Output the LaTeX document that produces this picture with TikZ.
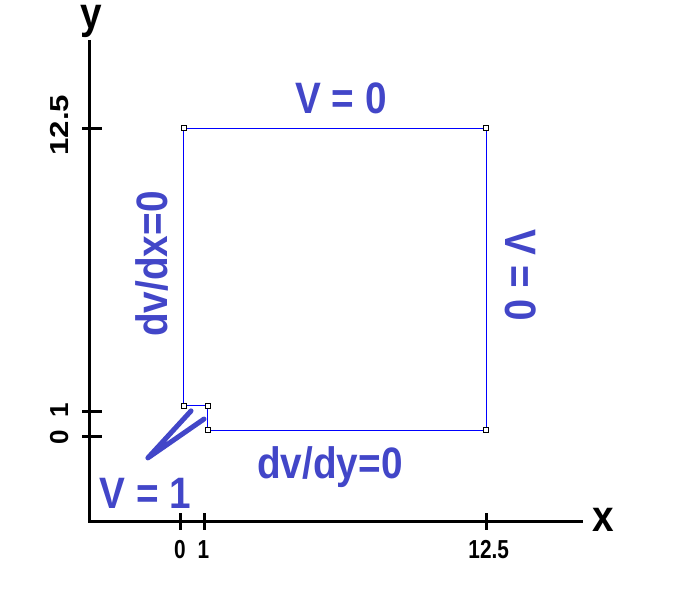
\documentclass[tikz,border=0pt]{standalone}
\usepackage{fontspec}
\setmainfont{Liberation Sans}
\usepackage{graphicx}
\usetikzlibrary{positioning}
\definecolor{labelblue}{RGB}{66, 70, 200}
\definecolor{edgeblue}{RGB}{0, 0, 255}
\newcommand{\narrow}[2][0.88]{\scalebox{#1}[1]{#2}}

\begin{document}
\begin{tikzpicture}[x=24.5pt, y=24.6pt,
  bclabel/.style={font=\bfseries\fontsize{44}{44}\selectfont, text=labelblue, inner sep=0pt, anchor=base},
  axislabel/.style={font=\bfseries\fontsize{44}{44}\selectfont, inner sep=0pt, anchor=base},
  ticklab/.style={font=\bfseries\fontsize{26}{26}\selectfont, inner sep=0pt, anchor=base},
  cornermark/.style={draw=black, line width=0.8pt, fill=white, minimum size=5pt, inner sep=0pt}]
  \useasboundingbox (-7.347,-6.220) rectangle (20.163,17.724);

  % axes
  \coordinate (ytop) at (-3.71,16.10);
  \coordinate (orig) at (-3.71,-3.455);
  \coordinate (xend) at (16.45,-3.455);
  \draw[line width=3pt] (ytop) -- (orig) -- (xend);
  \foreach \t in {0,1,12.5} {
    \draw[line width=3pt] (\t,-3.13) -- (\t,-3.82);
    \draw[line width=3pt] (-4.0,\t) -- (-3.18,\t);
  }
  \node[ticklab] (xt0) at (0,-4.96) {\narrow[0.8]{0}};
  \node[ticklab] (xt1) at (0.96,-4.96) {\narrow[0.8]{1}};
  \node[ticklab] (xt12) at (12.6,-4.96) {\narrow[0.8]{12.5}};
  \node[ticklab, rotate=90] (yt0) at (-4.57,-0.04) {0};
  \node[ticklab, rotate=90] (yt1) at (-4.57,1.04) {1};
  \node[ticklab, rotate=90] (yt12) at (-4.57,12.64) {\narrow[1.2]{12.5}};
  \node[axislabel] (ylab) at (-3.61,16.55) {\narrow{y}};
  \node[axislabel] (xlab) at (17.27,-3.90) {\narrow{x}};

  % domain
  \coordinate (c1) at (0.16,12.52);
  \coordinate (c2) at (12.49,12.52);
  \coordinate (c3) at (12.49,0.24);
  \coordinate (c4) at (1.14,0.24);
  \coordinate (c5) at (1.14,1.22);
  \coordinate (c6) at (0.16,1.22);
  \draw[edgeblue, line width=1pt] (c1) -- (c2) -- (c3) -- (c4) -- (c5) -- (c6) -- cycle;
  \foreach \c in {c1,c2,c3,c4,c5,c6}
    \node[cornermark] at (\c) {};

  % boundary conditions
  \node[bclabel] (vtop) at (6.57,13.13) {\narrow{V = 0}};
  \node[bclabel, rotate=90] (vleft) at (-0.53,6.99) {\narrow{dv/dx=0}};
  \node[bclabel, rotate=-90] (vright) at (13.27,6.54) {\narrow{V = 0}};
  \node[bclabel] (vbot) at (6.12,-1.71) {\narrow{dv/dy=0}};
  \node[bclabel] (vone) at (-1.40,-2.93) {\narrow{V = 1}};
  \coordinate (tip) at (-1.31,-0.89);
  \draw[labelblue, line width=5pt, line cap=round, line join=round] (0.45,1.02) -- (tip) -- (0.98,0.69);
\end{tikzpicture}
\end{document}
